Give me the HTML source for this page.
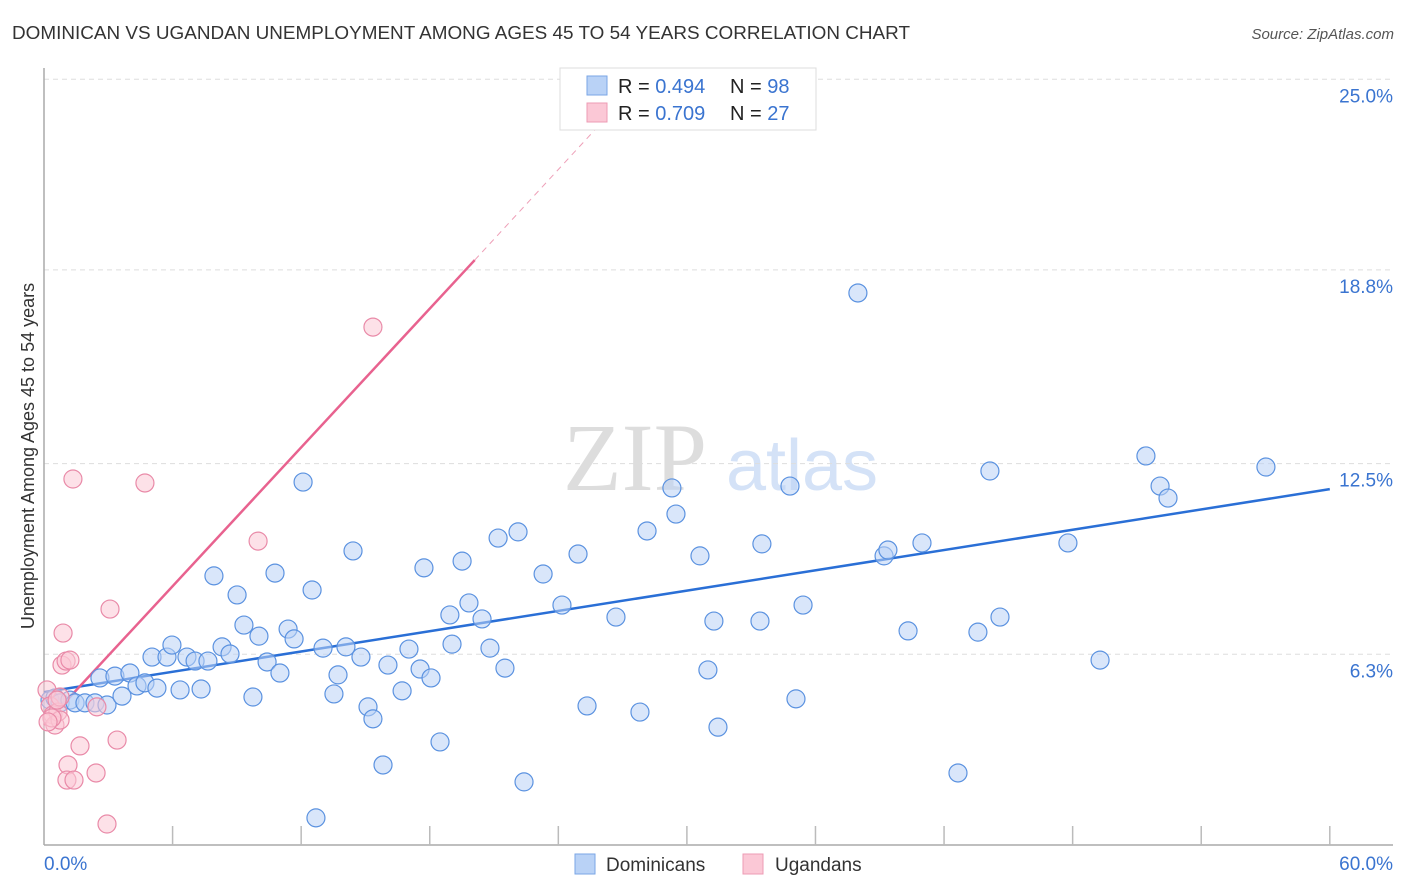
<!DOCTYPE html>
<html><head><meta charset="utf-8"><style>
body{margin:0;background:#fff;font-family:"Liberation Sans",sans-serif}
svg{display:block}
</style></head><body>
<svg id="chart" width="1406" height="892" xmlns="http://www.w3.org/2000/svg" font-family="Liberation Sans, sans-serif">
<text x="12" y="39" font-size="18" fill="#333" textLength="898" lengthAdjust="spacingAndGlyphs">DOMINICAN VS UGANDAN UNEMPLOYMENT AMONG AGES 45 TO 54 YEARS CORRELATION CHART</text>
<text x="1394" y="39" font-size="15" fill="#555" font-style="italic" text-anchor="end">Source: ZipAtlas.com</text>
<text transform="translate(34,456) rotate(-90)" font-size="18" fill="#333" text-anchor="middle">Unemployment Among Ages 45 to 54 years</text>
<g>
<text x="635" y="490" font-size="96" fill="#ddd" font-family="Liberation Serif, serif" text-anchor="middle">ZIP</text>
<text x="802" y="490" font-size="72" fill="#d4e2f7" text-anchor="middle">atlas</text>
</g>
<g id="grid"></g><g id="axes"></g><g id="trends"></g><g id="pts"></g>
<g>
<rect x="560" y="68" width="256" height="62" fill="#fff" stroke="#ddd"/>
<rect x="587" y="76" width="20" height="19" fill="#b9d2f6" stroke="#7aa6e6"/>
<rect x="587" y="103" width="20" height="19" fill="#fbc8d6" stroke="#ee9bb4"/>
<text x="618" y="93" font-size="20" fill="#222">R = <tspan fill="#3a74d0">0.494</tspan></text>
<text x="730" y="93" font-size="20" fill="#222">N = <tspan fill="#3a74d0">98</tspan></text>
<text x="618" y="120" font-size="20" fill="#222">R = <tspan fill="#3a74d0">0.709</tspan></text>
<text x="730" y="120" font-size="20" fill="#222">N = <tspan fill="#3a74d0">27</tspan></text>
</g>
<g>
<rect x="575" y="854" width="20" height="20" fill="#b9d2f6" stroke="#7aa6e6"/>
<text x="606" y="871" font-size="19" fill="#333">Dominicans</text>
<rect x="743" y="854" width="20" height="20" fill="#fbc8d6" stroke="#ee9bb4"/>
<text x="775" y="871" font-size="19" fill="#333">Ugandans</text>
</g>
<text x="44" y="870" font-size="19" fill="#3a74d0">0.0%</text>
<text x="1393" y="870" font-size="19" fill="#3a74d0" text-anchor="end">60.0%</text>
</svg>
<script>
const yTicks=[6.3,12.5,18.8,25.0];
const yTickLabels=["6.3%","12.5%","18.8%","25.0%"];
const xTicks=[0,6,12,18,24,30,36,42,48,54,60];
const domX=[0.28,0.51,0.75,1.21,1.45,1.91,2.38,2.94,2.61,3.31,3.64,4.01,4.34,4.71,5.04,5.27,5.74,5.97,6.35,6.67,7.05,7.33,7.65,7.93,8.31,8.68,9.01,9.33,9.75,10.03,10.41,10.78,11.01,11.39,11.67,12.09,12.51,12.69,13.02,13.53,13.72,14.09,14.42,14.79,15.12,15.35,15.82,16.05,16.71,17.03,17.55,17.73,18.06,18.48,18.94,19.04,19.51,19.83,20.44,20.81,21.19,21.51,22.12,22.40,23.29,24.17,24.92,25.34,26.69,27.81,28.14,29.30,29.49,30.61,30.98,31.26,31.45,33.41,33.50,34.81,35.09,35.42,37.98,39.20,39.38,40.32,40.97,42.65,43.58,44.14,44.61,47.78,49.28,51.42,52.08,52.45,57.02,33.41];
const domY=[4.81,4.88,4.72,4.81,4.72,4.72,4.72,4.65,5.53,5.59,4.94,5.69,5.27,5.37,6.21,5.20,6.21,6.60,5.14,6.21,6.08,5.17,6.08,8.85,6.54,6.31,8.23,7.25,4.91,6.89,6.05,8.94,5.69,7.12,6.80,11.90,8.39,0.98,6.50,5.01,5.63,6.54,9.66,6.21,4.59,4.20,2.70,5.95,5.11,6.47,5.82,9.11,5.53,3.45,7.58,6.63,9.33,7.97,7.45,6.50,10.08,5.85,10.28,2.15,8.91,7.90,9.56,4.62,7.51,4.42,10.31,11.71,10.86,9.50,5.79,7.38,3.93,7.38,9.89,11.77,4.85,7.90,18.05,9.50,9.69,7.06,9.92,2.44,7.02,12.26,7.51,9.92,6.11,12.75,11.77,11.38,12.39,24.59];
const ugaX=[0.14,0.28,0.42,0.51,0.65,0.75,0.75,0.84,0.89,1.03,1.21,1.35,1.12,1.07,1.40,1.68,2.43,2.47,2.94,3.08,3.41,4.71,9.99,15.35,0.61,0.37,0.19];
const ugaY=[5.14,4.62,4.33,4.00,4.42,4.91,4.16,5.95,6.99,6.08,6.11,12.00,2.70,2.21,2.21,3.32,2.44,4.59,0.78,7.77,3.51,11.87,9.98,16.94,4.81,4.23,4.10];
const domTrendX=[0,60], domTrendY=[5.07,11.67];
const ugaTrendX=[0,20.1], ugaTrendY=[4.0,19.12];
const ugaDashX=[20.1,25.9], ugaDashY=[19.12,23.5];
const NS="http://www.w3.org/2000/svg";
const X=v=>44+v*21.43, Y=v=>848-v*30.75;
function mk(tag,attrs,parent){const e=document.createElementNS(NS,tag);for(const k in attrs)e.setAttribute(k,attrs[k]);document.getElementById(parent).appendChild(e);return e;}
yTicks.forEach((t,i)=>{
 const l=mk('line',{x1:44,x2:1393,y1:Y(t),y2:Y(t),stroke:'#ddd','stroke-dasharray':'5,4'},'grid');
 
 
 const tx=mk('text',{x:1393,y:Y(t)+23,'font-size':19,fill:'#3a74d0','text-anchor':'end'},'grid');
 tx.textContent=yTickLabels[i];
 
 
});
let a=mk('line',{x1:44,x2:44,y1:68,y2:845,stroke:'#aaa','stroke-width':1.5},'axes');


a=mk('line',{x1:44,x2:1393,y1:845,y2:845,stroke:'#aaa','stroke-width':1.5},'axes');


xTicks.slice(1).forEach(t=>{
 const l=mk('line',{x1:X(t),x2:X(t),y1:826,y2:845,stroke:'#bbb','stroke-width':1.5},'axes');
 
 
});
function dots(xs,ys,fill,stroke,name){xs.forEach((x,i)=>{
 const c=mk('circle',{cx:X(x),cy:Y(ys[i]),r:9,fill:fill,'fill-opacity':0.55,stroke:stroke,'stroke-width':1.2},'pts');
 
 
});}
dots(domX,domY,'#b9d2f6','#5b92e0','dominican-point');
dots(ugaX,ugaY,'#fbc8d6','#e98aa8','ugandan-point');
let t=mk('line',{x1:X(domTrendX[0]),y1:Y(domTrendY[0]),x2:X(domTrendX[1]),y2:Y(domTrendY[1]),stroke:'#2a6fd6','stroke-width':2.5},'trends');


t=mk('line',{x1:X(ugaTrendX[0]),y1:Y(ugaTrendY[0]),x2:X(ugaTrendX[1]),y2:Y(ugaTrendY[1]),stroke:'#e8628f','stroke-width':2.5},'trends');


t=mk('line',{x1:X(ugaDashX[0]),y1:Y(ugaDashY[0]),x2:X(ugaDashX[1]),y2:Y(ugaDashY[1]),stroke:'#eea0b8','stroke-width':1,'stroke-dasharray':'6,5'},'trends');


</script>
</body></html>
